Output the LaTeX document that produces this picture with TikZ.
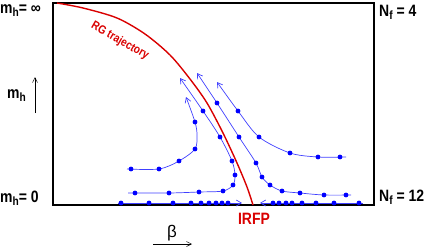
\documentclass[tikz,border=0pt]{standalone}
\usepackage{fontspec}
\setmainfont{Liberation Sans}
\newfontfamily\narrowfont{Liberation Sans}[FakeStretch=0.85]
\usetikzlibrary{arrows.meta}

% lowered subscript as in the plot labels
\newcommand\lowsub[1]{\raisebox{-0.45ex}{\fontsize{12}{12}\selectfont #1}}

\begin{document}
\begin{tikzpicture}[x=1bp, y=-1bp,
  frame/.style={draw, line width=1.3pt},
  trajectory/.style={draw=red!85!black, line width=1.4pt},
  flow/.style={draw=blue!75!white, line width=0.7pt, -{Straight Barb[length=5pt, width=6pt]}},
  flowdot/.style={fill=blue},
  axisarrow/.style={draw, line width=0.5pt, -{Straight Barb[length=5pt, width=5pt]}},
  sidelabel/.style={inner sep=0pt, font=\narrowfont\bfseries\fontsize{16.5}{18}\selectfont},
  redtext/.style={inner sep=0pt, text=red!85!black, font=\narrowfont\bfseries\fontsize{16.5}{18}\selectfont},
  curvetext/.style={inner sep=0pt, text=red!85!black, font=\narrowfont\bfseries\fontsize{12}{14}\selectfont}
]
\useasboundingbox (0,0) rectangle (436,250);

% phase diagram frame
\draw[frame] (53,3) rectangle (374,205);

% RG trajectory
\draw[trajectory] plot[smooth] coordinates {(57,3) (83,8) (117,18) (145,34) (170,55) (190,79) (207,103) (223,133) (237,163) (247,187) (253,205)};
\node[curvetext, rotate=-30] (rgtext) at (120,41) {RG trajectory};

% flows left of the trajectory
\draw[flow] plot[smooth] coordinates {(127,169) (159,169) (179,161) (195,149) (197,135) (195,122) (186,97)};
\draw[flow] plot[smooth] coordinates {(128,193) (169,193) (199,192) (223,191) (233,185) (235,175) (232,161) (220,137) (203,111) (180,78)};
% flows right of the trajectory
\draw[flow] plot[smooth] coordinates {(346,157) (318,157) (290,153) (259,137) (238,111) (217,82)};
\draw[flow] plot[smooth] coordinates {(351,195) (324,195) (300,193) (282,191) (270,185) (262,177) (256,163) (239,137) (217,103) (197,73)};

% flows on the m_h = 0 line
\coordinate (leftstart) at (118,203);
\coordinate (leftend) at (242,203);
\coordinate (rightstart) at (363,203);
\coordinate (rightend) at (260,203);
\draw[flow] (leftstart) -- (leftend);
\draw[flow] (rightstart) -- (rightend);

% dots
\foreach \p in {(131,169),(159,169),(179,161),(195,149),(195,122),
                (135,193),(169,193),(199,192),(223,191),(233,185),(235,175),(232,161),(220,137),(203,111),
                (340,157),(318,157),(290,153),(259,137),(238,111),
                (346,195),(324,195),(300,193),(282,191),(270,185),(262,177),(256,163),(239,137),(217,103)}
  \fill[flowdot] \p circle[radius=2.4];
\foreach \x in {121,149,173,191,201,209,216,222,228,273,279,286,292,302,316,334,359}
  \fill[flowdot] (\x,203) circle[radius=2.4];

% labels
\node[sidelabel, anchor=base west] (minf) at (0,13) {m\lowsub{h}= ∞};
\node[sidelabel, anchor=base west] (mh) at (7,98) {m\lowsub{h}};
\coordinate (mhlow) at (35,113);
\coordinate (mhhigh) at (35,77);
\draw[axisarrow] (mhlow) -- (mhhigh);
\node[sidelabel, anchor=base west] (mzero) at (0,202) {m\lowsub{h}= 0};
\node[sidelabel, anchor=base west] (nffour) at (379,16) {N\lowsub{f} = 4};
\node[sidelabel, anchor=base west] (nftwelve) at (379,201) {N\lowsub{f} = 12};
\node[redtext, anchor=base] (irfp) at (254,224) {IRFP};
\node[sidelabel, anchor=base, font=\fontsize{17}{18}\selectfont] (beta) at (172,237) {β};
\coordinate (betalow) at (153,244);
\coordinate (betahigh) at (192,244);
\draw[axisarrow] (betalow) -- (betahigh);

\end{tikzpicture}
\end{document}
